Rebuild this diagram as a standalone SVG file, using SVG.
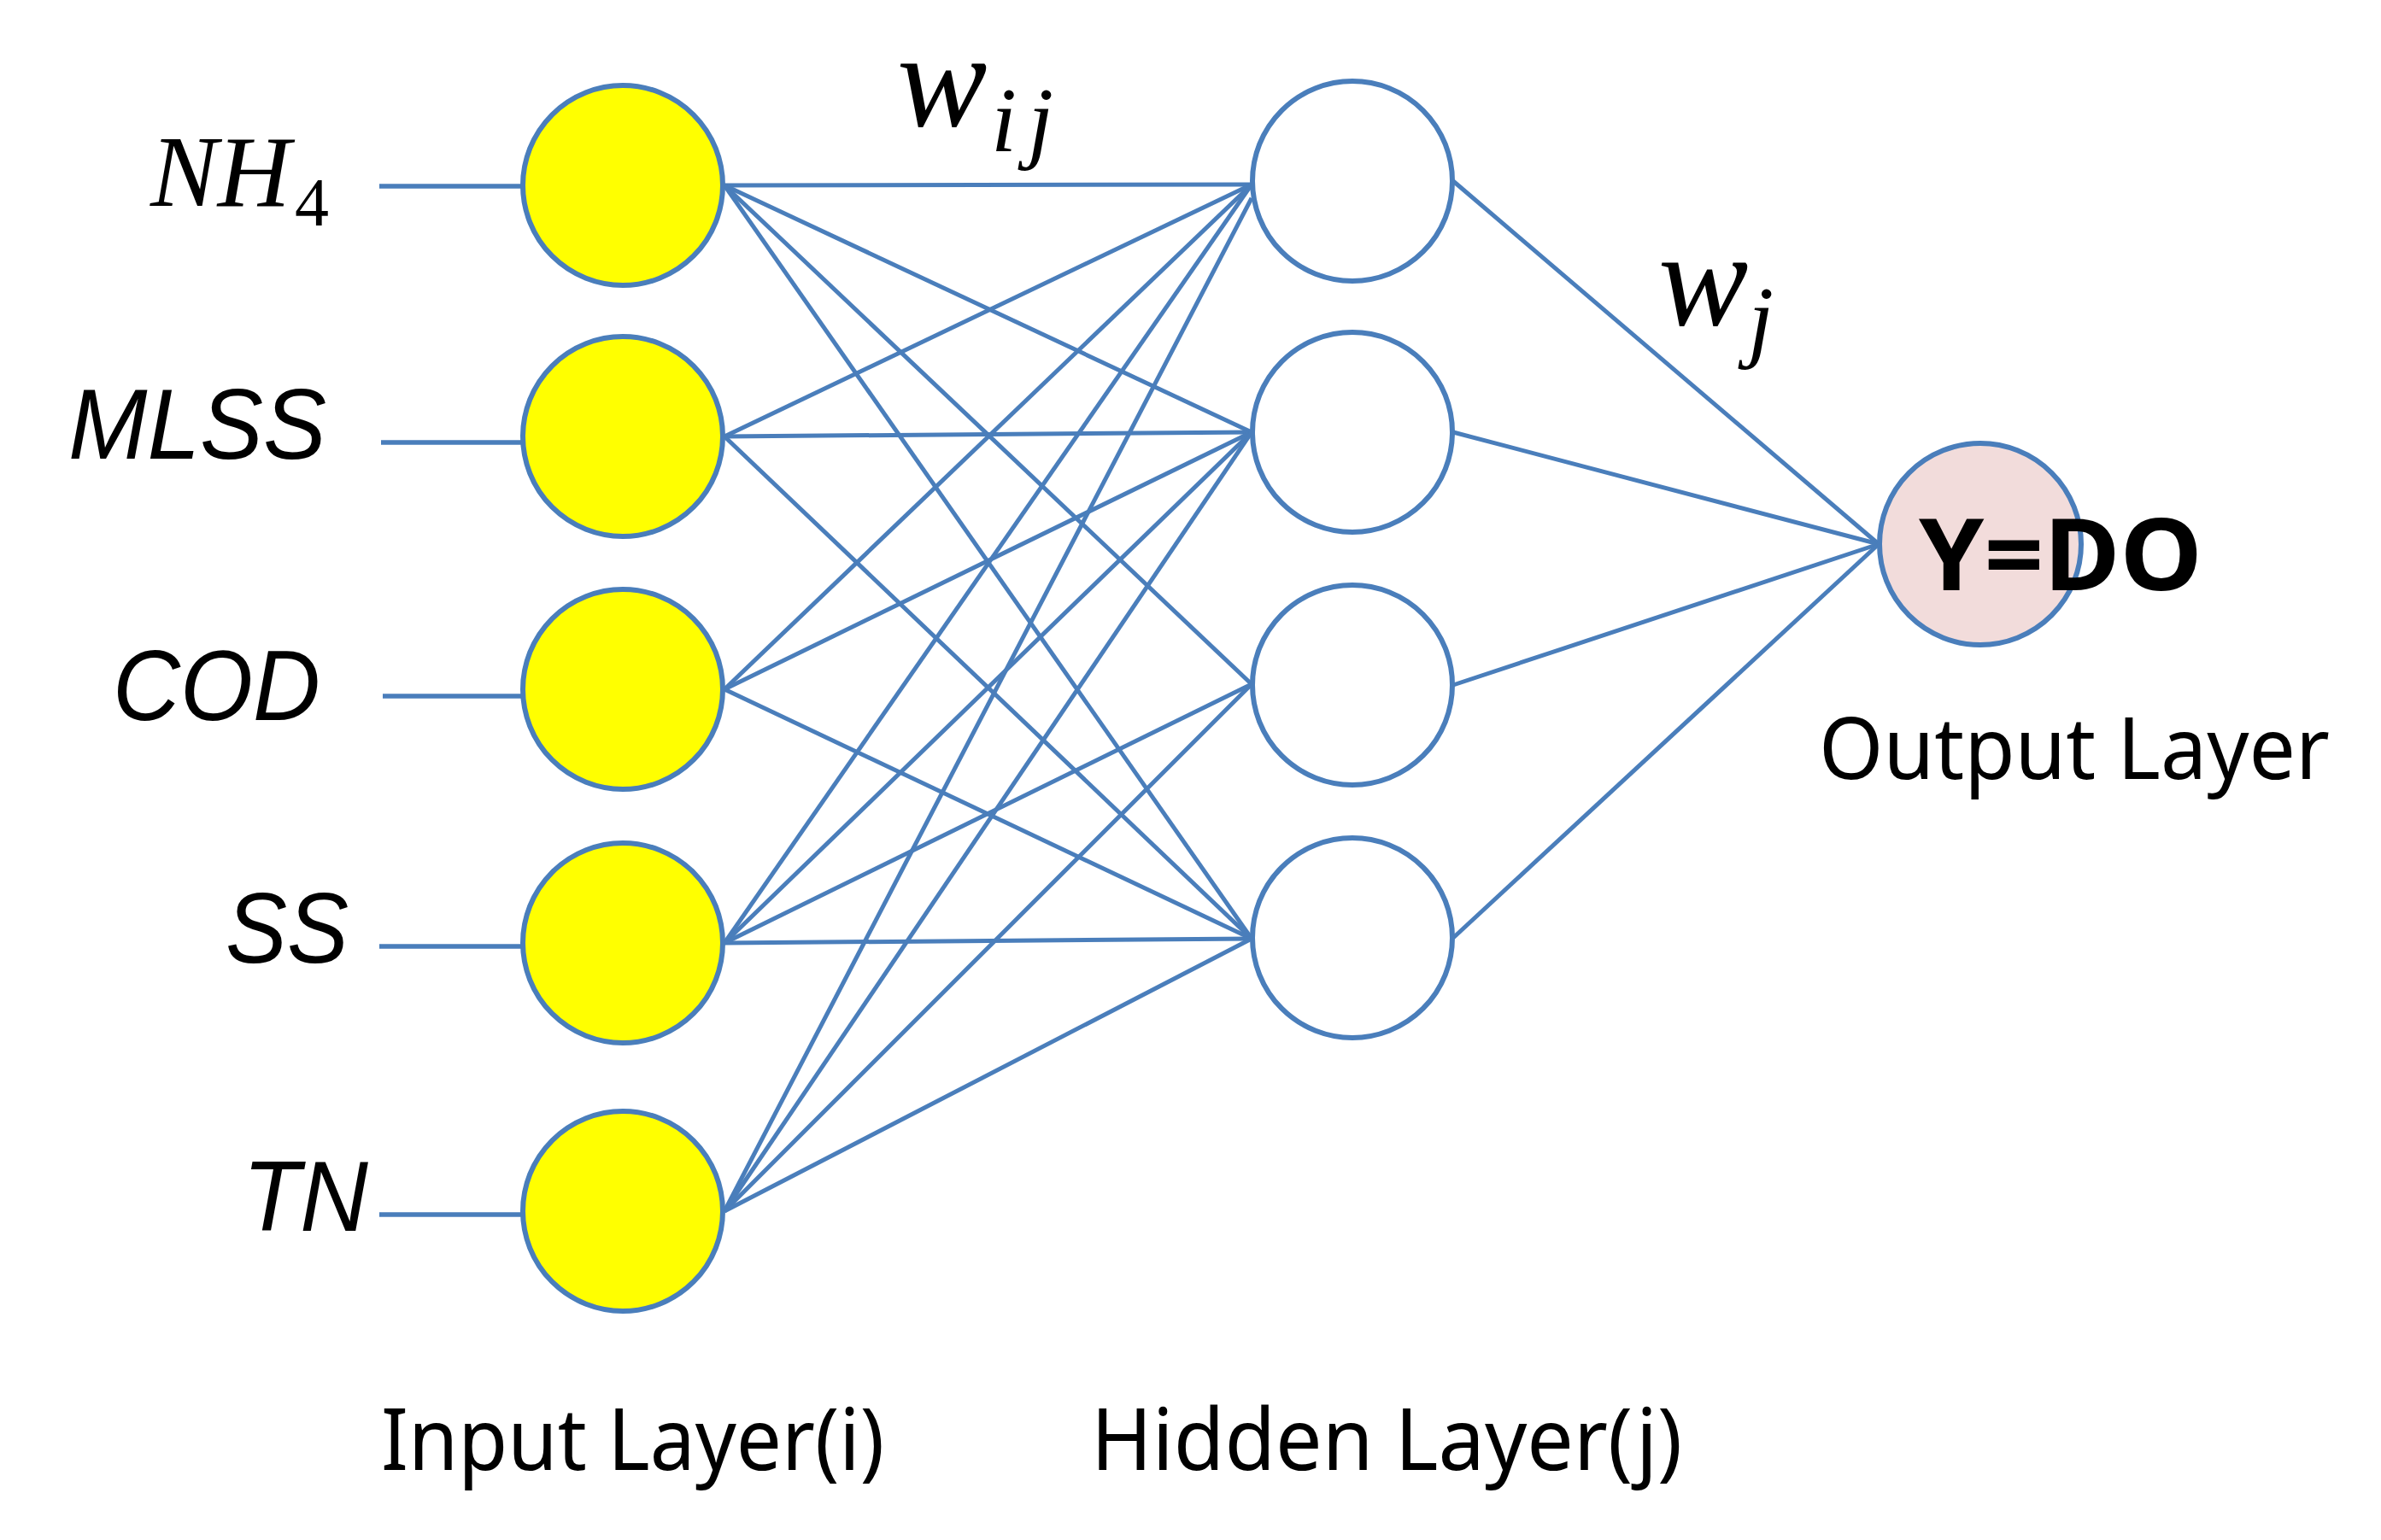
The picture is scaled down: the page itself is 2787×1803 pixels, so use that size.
<svg xmlns="http://www.w3.org/2000/svg" width="2787" height="1803" viewBox="0 0 2787 1803">
<style>
.in{fill:#FFFF00;stroke:#4A7EBB;stroke-width:6}
.hid{fill:#FFFFFF;stroke:#4A7EBB;stroke-width:6}
.out{fill:#F2DCDB;stroke:#4A7EBB;stroke-width:6}
.ln{stroke:#4A7EBB;stroke-width:5;fill:none}
.stub{stroke:#4A7EBB;stroke-width:5.5;fill:none}
.var{font-family:"Liberation Sans",Arial,sans-serif;font-style:italic;font-size:117px;fill:#000}
.math{font-family:"Liberation Serif","Times New Roman",serif;font-style:italic;fill:#000}
.lab{font-family:"Noto Sans","Liberation Sans",sans-serif;font-size:101px;fill:#000}
</style>
<rect width="2787" height="1803" fill="#FFFFFF"/>
<g id="connectors">
<g id="stubs">
<line class="stub" x1="444" y1="218" x2="612" y2="218"/>
<line class="stub" x1="446" y1="518" x2="612" y2="518"/>
<line class="stub" x1="448" y1="815" x2="612" y2="815"/>
<line class="stub" x1="444" y1="1108" x2="612" y2="1108"/>
<line class="stub" x1="444" y1="1422" x2="612" y2="1422"/>
</g>
<g id="wij">
<line class="ln" x1="848" y1="217" x2="1465" y2="216"/>
<line class="ln" x1="848" y1="217" x2="1465" y2="506"/>
<line class="ln" x1="848" y1="217" x2="1465" y2="801"/>
<line class="ln" x1="848" y1="217" x2="1465" y2="1099"/>
<line class="ln" x1="848" y1="511" x2="1465" y2="216"/>
<line class="ln" x1="848" y1="511" x2="1465" y2="506"/>
<line class="ln" x1="848" y1="511" x2="1465" y2="1099"/>
<line class="ln" x1="848" y1="807" x2="1465" y2="216"/>
<line class="ln" x1="848" y1="807" x2="1465" y2="506"/>
<line class="ln" x1="848" y1="807" x2="1465" y2="1099"/>
<line class="ln" x1="848" y1="1104" x2="1465" y2="216"/>
<line class="ln" x1="848" y1="1104" x2="1465" y2="506"/>
<line class="ln" x1="848" y1="1104" x2="1465" y2="801"/>
<line class="ln" x1="848" y1="1104" x2="1465" y2="1099"/>
<line class="ln" x1="848" y1="1418" x2="1465" y2="232"/>
<line class="ln" x1="848" y1="1418" x2="1465" y2="506"/>
<line class="ln" x1="848" y1="1418" x2="1465" y2="801"/>
<line class="ln" x1="848" y1="1418" x2="1465" y2="1099"/>
</g>
<g id="wj">
<line class="ln" x1="1701" y1="212" x2="2199" y2="637"/>
<line class="ln" x1="1701" y1="506" x2="2199" y2="637"/>
<line class="ln" x1="1701" y1="802" x2="2199" y2="637"/>
<line class="ln" x1="1701" y1="1098" x2="2199" y2="637"/>
</g>
</g>
<g id="input-nh4"><circle class="in" cx="729" cy="217" r="117"/></g>
<g id="input-mlss"><circle class="in" cx="729" cy="511" r="117"/></g>
<g id="input-cod"><circle class="in" cx="729" cy="807" r="117"/></g>
<g id="input-ss"><circle class="in" cx="729" cy="1104" r="117"/></g>
<g id="input-tn"><circle class="in" cx="729" cy="1418" r="117"/></g>
<g id="hidden-1"><circle class="hid" cx="1583" cy="212" r="117"/></g>
<g id="hidden-2"><circle class="hid" cx="1583" cy="506" r="117"/></g>
<g id="hidden-3"><circle class="hid" cx="1583" cy="802" r="117"/></g>
<g id="hidden-4"><circle class="hid" cx="1583" cy="1098" r="117"/></g>
<g id="output">
<circle class="out" cx="2318" cy="637" r="118"/>
<text x="2246" y="691" font-family="'Noto Sans','Liberation Sans',sans-serif" font-weight="bold" font-size="117" textLength="332" lengthAdjust="spacingAndGlyphs" fill="#000">Y=DO</text>
</g>
<g id="labels">
<text class="math" x="176" y="241" font-size="118">NH<tspan font-style="normal" font-size="80" x="345" y="264">4</tspan></text>
<text class="var" x="80" y="537" textLength="302" lengthAdjust="spacingAndGlyphs">MLSS</text>
<text class="var" x="132" y="843" textLength="243" lengthAdjust="spacingAndGlyphs">COD</text>
<text class="var" x="264" y="1127" textLength="144" lengthAdjust="spacingAndGlyphs">SS</text>
<text class="var" x="284" y="1441" textLength="147" lengthAdjust="spacingAndGlyphs">TN</text>
<text class="math" x="1050" y="147" font-size="158">w<tspan font-size="108" x="1160" y="177">i</tspan><tspan font-size="108" x="1203" y="177">j</tspan></text>
<text class="math" x="1941" y="380" font-size="158">w<tspan font-size="108" x="2046" y="410">j</tspan></text>
<text class="lab" x="446" y="1721" textLength="589" lengthAdjust="spacingAndGlyphs">Input Layer(i)</text>
<text class="lab" x="1277" y="1721" textLength="692" lengthAdjust="spacingAndGlyphs">Hidden Layer(j)</text>
<text class="lab" x="2129" y="912" textLength="598" lengthAdjust="spacingAndGlyphs">Output Layer</text>
</g>
</svg>
